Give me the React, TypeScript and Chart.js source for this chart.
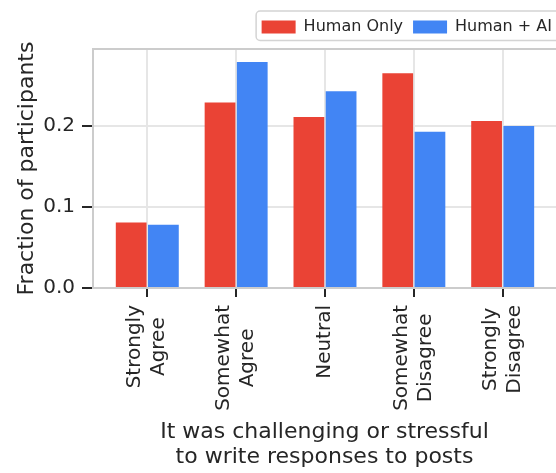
import React, { useEffect, useRef } from 'react';
import { Chart, registerables } from 'chart.js';

Chart.register(...registerables);

// ---- data ----
const categories: string[][] = [
  ['Strongly', 'Agree'],
  ['Somewhat', 'Agree'],
  ['Neutral'],
  ['Somewhat', 'Disagree'],
  ['Strongly', 'Disagree'],
];
const seriesNames = ['Human Only', 'Human + AI'];
const humanOnly = [0.081, 0.229, 0.211, 0.265, 0.206];
const humanAI = [0.078, 0.279, 0.243, 0.193, 0.2];
const yTicks = [0.0, 0.1, 0.2];
const yTitle = 'Fraction of participants';
const xTitle = ['It was challenging or stressful', 'to write responses to posts'];

// ---- styles ----
const FONT = "'DejaVu Sans', sans-serif";
const TEXT = '#262626';
const RED = '#EA4335';
const BLUE = '#4285F4';
const GRID = '#e6e6e6';
const SPINE = '#cccccc';
const X_TICK_LEN = 9;
const X_TICK_PAD = 8;

const centerRotatedLabels = {
  id: 'centerRotatedLabels',
  beforeDraw(chart: any) {
    const scale = chart.scales.x;
    const items = scale.getLabelItems();
    const ctx = chart.ctx;
    items.forEach((item: any, i: number) => {
      if (item._centered) return;
      const lines: string[] = Array.isArray(item.label) ? item.label : [item.label];
      ctx.save();
      ctx.font = item.font.string;
      const maxW = Math.max(...lines.map((l) => ctx.measureText(l).width));
      ctx.restore();
      const L = item.font.lineHeight;
      const px = scale.getPixelForTick(i);
      const y0 = scale.top + X_TICK_LEN + X_TICK_PAD;
      item.options.translation = [px, y0 + maxW / 2];
      item.options.textAlign = 'center';
      item.options.textBaseline = 'middle';
      item.textOffset = -((lines.length - 1) * L) / 2;
      item._centered = true;
    });
  },
};

const framePlugin = {
  id: 'frame',
  afterDraw(chart: any) {
    const ctx = chart.ctx;
    const a = chart.chartArea;
    ctx.save();
    // top spine
    ctx.strokeStyle = SPINE;
    ctx.lineWidth = 2;
    ctx.beginPath();
    ctx.moveTo(a.left - 1, a.top);
    ctx.lineTo(a.right + 6, a.top);
    ctx.stroke();
    // legend frame
    const lg = chart.legend;
    if (lg && lg.legendHitBoxes && lg.legendHitBoxes.length) {
      const hb = lg.legendHitBoxes[0];
      const cy = hb.top + 6.5;
      ctx.strokeStyle = '#d4d4d4';
      ctx.lineWidth = 1.5;
      ctx.beginPath();
      (ctx as any).roundRect(hb.left - 5.5, cy - 14.5, 420, 29.5, 4);
      ctx.stroke();
    }
    ctx.restore();
  },
};

export default function App() {
  const ref = useRef<HTMLCanvasElement | null>(null);

  useEffect(() => {
    if (!ref.current) return;
    const chart = new Chart(ref.current, {
      type: 'bar',
      data: {
        datasets: [
          {
            label: seriesNames[0],
            data: humanOnly.map((v, i) => ({ x: i, y: v })),
            backgroundColor: RED,
            borderWidth: 0,
            categoryPercentage: 0.725,
            barPercentage: 0.955,
          },
          {
            label: seriesNames[1],
            data: humanAI.map((v, i) => ({ x: i, y: v })),
            backgroundColor: BLUE,
            borderWidth: 0,
            categoryPercentage: 0.725,
            barPercentage: 0.955,
          },
        ],
      },
      options: {
        animation: false,
        responsive: true,
        maintainAspectRatio: false,
        layout: { autoPadding: false, padding: { left: 0, right: -6, top: 9, bottom: 0 } },
        plugins: {
          tooltip: { enabled: false },
          legend: {
            position: 'top',
            align: 'end',
            labels: {
              boxWidth: 34,
              boxHeight: 13,
              padding: 10,
              color: TEXT,
              font: { family: FONT, size: 16 },
            },
          },
        },
        scales: {
          x: {
            type: 'linear',
            offset: false,
            min: -0.611,
            max: 4.6,
            afterBuildTicks: (s: any) => {
              s.ticks = categories.map((_, i) => ({ value: i }));
            },
            afterFit: (s: any) => {
              s.height = 185;
              s.paddingLeft = 0;
              s.paddingRight = 0;
            },
            ticks: {
              callback: (v: any) => categories[Math.round(Number(v))] ?? '',
              autoSkip: false,
              minRotation: 90,
              maxRotation: 90,
              padding: X_TICK_PAD,
              color: TEXT,
              font: { family: FONT, size: 20, lineHeight: 1.2 },
            },
            grid: {
              offset: false,
              color: GRID,
              lineWidth: 2,
              drawTicks: true,
              tickLength: X_TICK_LEN,
              tickColor: TEXT,
              tickWidth: 2,
            },
            border: { display: true, color: SPINE, width: 2 },
            title: {
              display: true,
              text: xTitle,
              color: TEXT,
              font: { family: FONT, size: 22, lineHeight: 1.15 },
              padding: { top: 0, bottom: 3 },
            },
          },
          xTop: {
            type: 'linear',
            position: 'top',
            display: true,
            grid: { display: false, drawTicks: false },
            border: { display: false },
            ticks: { display: false },
            afterFit: (s: any) => {
              s.height = 4;
              s.paddingLeft = 0;
              s.paddingRight = 0;
            },
          },
          y: {
            type: 'linear',
            min: 0,
            max: 0.295,
            afterBuildTicks: (s: any) => {
              s.ticks = yTicks.map((v) => ({ value: v }));
            },
            afterFit: (s: any) => {
              s.width = 93;
            },
            ticks: {
              callback: (v: any) => Number(v).toFixed(1),
              padding: 7,
              color: TEXT,
              font: { family: FONT, size: 20 },
            },
            grid: {
              color: GRID,
              lineWidth: 2,
              drawTicks: true,
              tickLength: 11,
              tickColor: TEXT,
              tickWidth: 2,
            },
            border: { display: true, color: SPINE, width: 2 },
            title: {
              display: true,
              text: yTitle,
              color: TEXT,
              font: { family: FONT, size: 22, lineHeight: 1.2 },
              padding: { top: 14, bottom: 0 },
            },
          },
        },
      },
      plugins: [centerRotatedLabels, framePlugin],
    } as any);
    return () => chart.destroy();
  }, []);

  return (
    <div style={{ position: 'fixed', left: 0, top: 0, width: 556, height: 473, background: '#fff' }}>
      <canvas ref={ref} />
    </div>
  );
}
